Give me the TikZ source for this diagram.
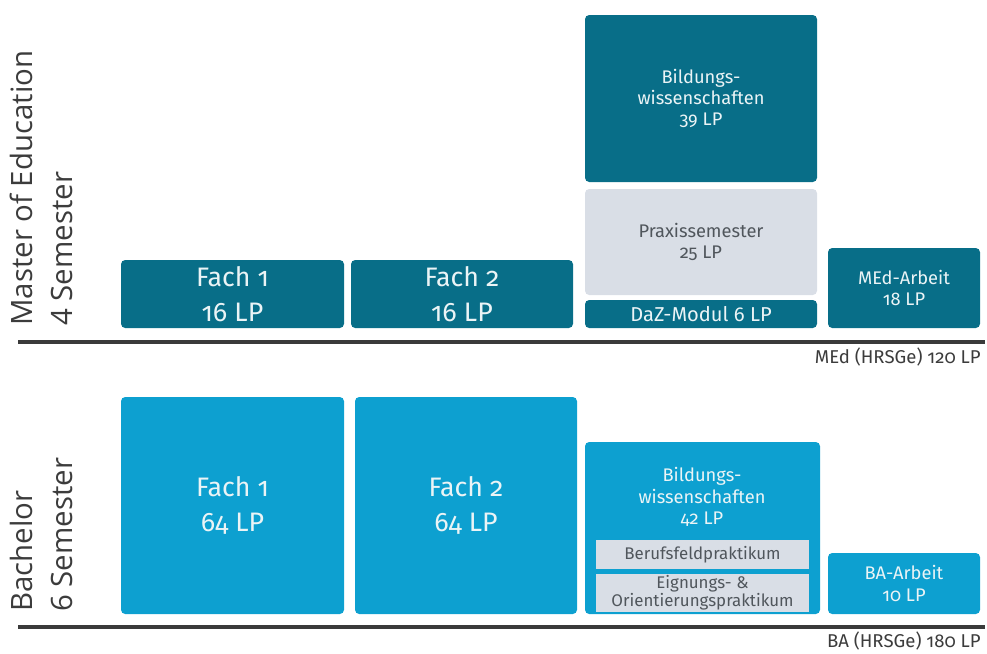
\documentclass[tikz,border=0pt]{standalone}
\usepackage{fontspec}
\setmainfont{Open Sans}
\newfontfamily\boxfont[Numbers=OldStyle]{Fira Sans}
\usetikzlibrary{fit}

\definecolor{medteal}{HTML}{086E88}
\definecolor{bablue}{HTML}{0DA0D0}
\definecolor{praxgray}{HTML}{D9DEE6}
\definecolor{graytext}{HTML}{50565C}
\definecolor{labeltext}{HTML}{3C3C3C}
\definecolor{barline}{HTML}{3A3A3A}

\tikzset{
  box/.style={inner sep=0pt, rounded corners=3pt},
  mbox/.style={box, fill=medteal},
  bbox/.style={box, fill=bablue},
  gbox/.style={box, fill=praxgray},
  boxtext/.style={inner sep=0pt, align=center, text=white!92!medteal},
  graytxt/.style={boxtext, text=graytext},
  bigtext/.style={font=\boxfont\fontsize{19}{24.5}\selectfont},
  midtext/.style={font=\boxfont\fontsize{13}{15.2}\selectfont},
  smalltext/.style={font=\boxfont\fontsize{12}{11}\selectfont},
  sidelabel/.style={rotate=90, anchor=north west, align=left, inner sep=0pt, text=labeltext, font=\fontsize{20.9}{28.5}\selectfont},
  total/.style={anchor=east, inner sep=0pt, text=labeltext, font=\boxfont\fontsize{13.2}{14}\selectfont},
  bar/.style={barline, line width=0.1cm}
}

\begin{document}
\begin{tikzpicture}[x=0.025cm, y=-0.025cm]
\useasboundingbox (0,0) rectangle (987,653);

% Master of Education
\node[sidelabel] (mlabel) at (10,326) {Master of Education\\4 Semester};
\node[mbox, fit={(121,260) (344,328)}] (mfach1) {};
\node[boxtext, bigtext] (mfach1 text) at (mfach1) {Fach 1\\16 LP};
\node[mbox, fit={(351,260) (573,328)}] (mfach2) {};
\node[boxtext, bigtext] (mfach2 text) at (mfach2) {Fach 2\\16 LP};
\node[mbox, fit={(585,15) (817,182)}] (mbild) {};
\node[boxtext, midtext] (mbild text) at (mbild) {Bildungs-\\wissenschaften\\39 LP};
\node[gbox, fit={(585,189) (817,295)}] (mprax) {};
\node[graytxt, midtext] (mprax text) at (mprax) {Praxissemester\\25 LP};
\node[mbox, fit={(585,300) (817,328)}] (mdaz) {};
\node[boxtext, font=\boxfont\fontsize{14.3}{15}\selectfont] (mdaz text) at (mdaz) {DaZ-Modul 6 LP};
\node[mbox, fit={(828,248) (980,328)}] (marbeit) {};
\node[boxtext, midtext] (marbeit text) at (marbeit) {MEd-Arbeit\\18 LP};
\coordinate (mbar west) at (18,342);
\coordinate (mbar east) at (985,342);
\draw[bar] (mbar west) -- (mbar east);
\node[total] (mtotal) at (981,357) {MEd (HRSGe) 120 LP};

% Bachelor
\node[sidelabel] (blabel) at (10,612) {Bachelor\\6 Semester};
\node[bbox, fit={(121,397) (344,614)}] (bfach1) {};
\node[boxtext, bigtext] (bfach1 text) at (bfach1) {Fach 1\\64 LP};
\node[bbox, fit={(355,397) (577,614)}] (bfach2) {};
\node[boxtext, bigtext] (bfach2 text) at (bfach2) {Fach 2\\64 LP};
\node[bbox, fit={(585,442) (820,614)}] (bbild) {};
\node[boxtext, midtext] (bbild text) at (702,497) {Bildungs-\\wissenschaften\\42 LP};
\node[gbox, rounded corners=0pt, fit={(596,540) (809,569)}] (bberuf) {};
\node[graytxt, smalltext] (bberuf text) at (bberuf) {Berufsfeldpraktikum};
\node[gbox, rounded corners=0pt, fit={(596,574) (809,612)}] (beign) {};
\node[graytxt, smalltext] (beign text) at (beign) {Eignungs- \&\\Orientierungspraktikum};
\node[bbox, fit={(828,553) (980,614)}] (barbeit) {};
\node[boxtext, midtext] (barbeit text) at (barbeit) {BA-Arbeit\\10 LP};
\coordinate (bbar west) at (18,627);
\coordinate (bbar east) at (985,627);
\draw[bar] (bbar west) -- (bbar east);
\node[total] (btotal) at (981,641) {BA (HRSGe) 180 LP};
\end{tikzpicture}
\end{document}
